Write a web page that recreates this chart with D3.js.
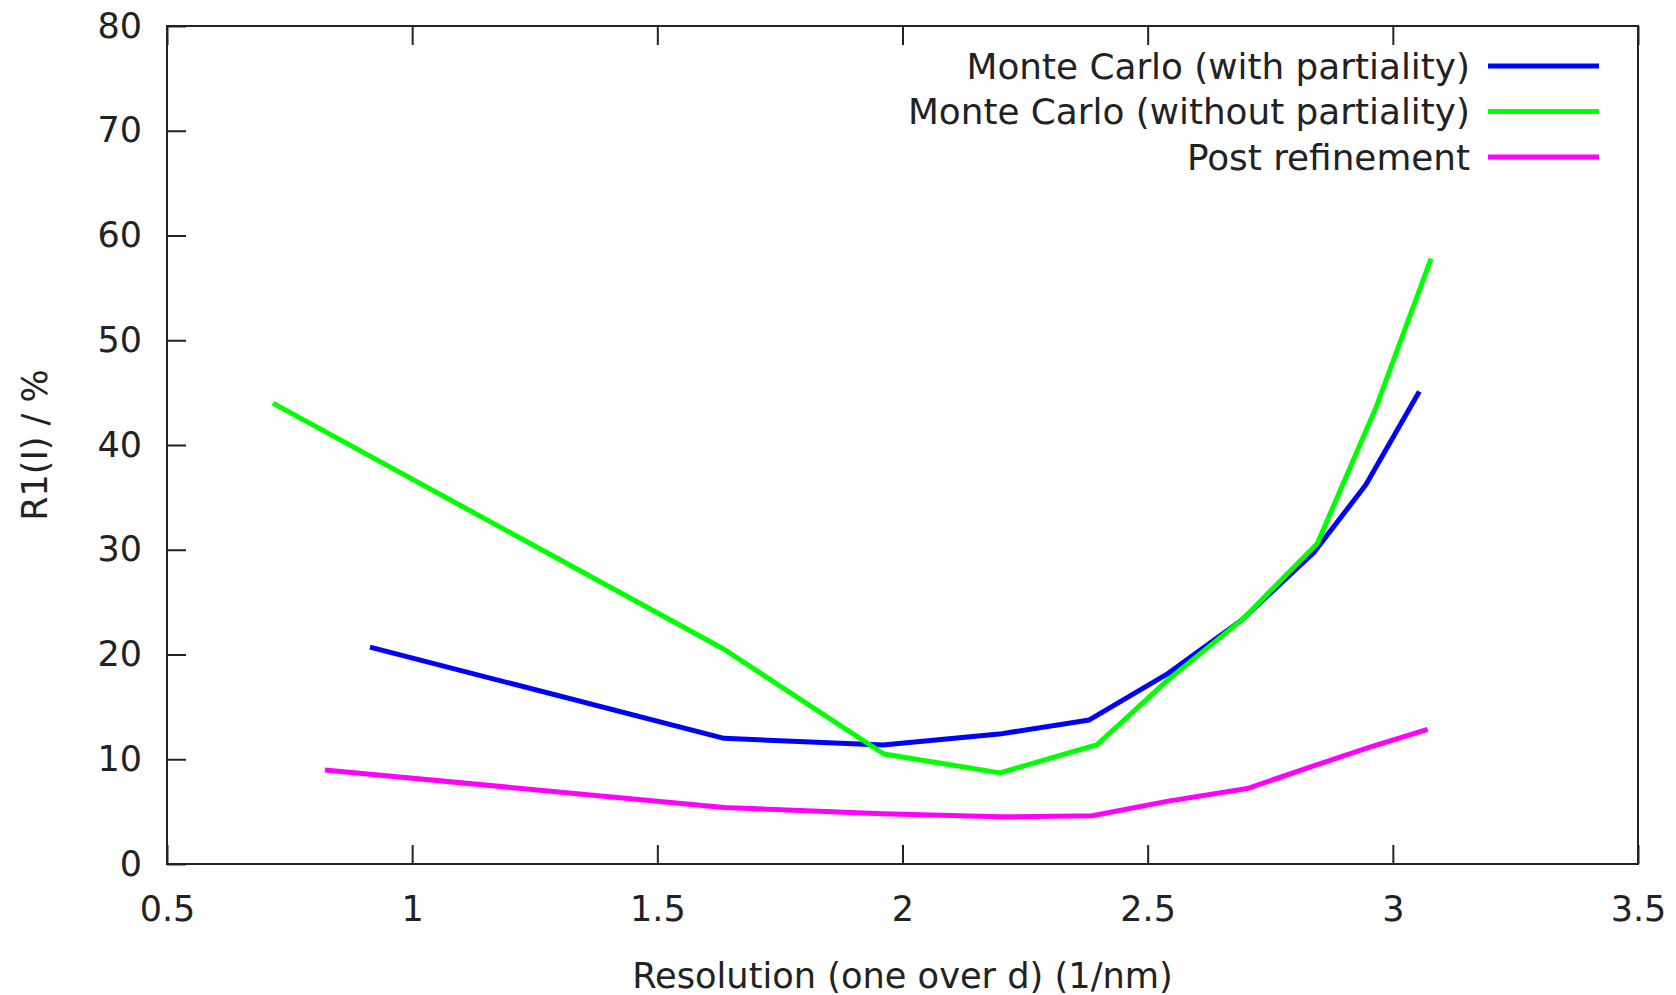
<!DOCTYPE html>
<html>
<head>
<meta charset="utf-8">
<script src="https://cdn.jsdelivr.net/npm/d3@7"></script>
<style>
  body { margin: 0; background: #fff; }
  text { font-family: "DejaVu Sans", sans-serif; fill: #222; }
</style>
</head>
<body>
<div id="chart"></div>
<script>
// values
var seriesNames = ["Monte Carlo (with partiality)", "Monte Carlo (without partiality)", "Post refinement"];
var seriesColors = ["#0000ff", "#00ff00", "#ff00ff"];

var withPartialityX = [0.914, 1.636, 1.96, 2.197, 2.381, 2.542, 2.692, 2.84, 2.945, 3.054];
var withPartialityY = [20.7, 12.0, 11.35, 12.4, 13.75, 18.2, 23.3, 29.8, 36.2, 45.1];

var withoutPartialityX = [0.716, 1.636, 1.962, 2.199, 2.397, 2.542, 2.692, 2.846, 2.965, 3.078];
var withoutPartialityY = [44.0, 20.5, 10.5, 8.7, 11.4, 17.6, 23.3, 30.6, 43.5, 57.8];

var postRefinementX = [0.822, 1.636, 1.96, 2.199, 2.387, 2.542, 2.703, 2.84, 2.95, 3.071];
var postRefinementY = [8.97, 5.4, 4.8, 4.5, 4.6, 6.0, 7.2, 9.4, 11.1, 12.86];

var xTicks = [0.5, 1, 1.5, 2, 2.5, 3, 3.5];
var yTicks = [0, 10, 20, 30, 40, 50, 60, 70, 80];

var xLabel = "Resolution (one over d) (1/nm)";
var yLabel = "R1(I) / %";

var W = 1676, H = 995;
var margin = {top: 26, right: 38, bottom: 131, left: 167};
var width = W - margin.left - margin.right,
    height = H - margin.top - margin.bottom;
var fontSize = 35, tickLen = 19;

var svg = d3.select('#chart').append('svg')
    .attr('width', W)
    .attr('height', H);

var g = svg.append('g')
    .attr('transform', 'translate(' + margin.left + ',' + margin.top + ')');

var xScale = d3.scaleLinear().domain([0.5, 3.5]).range([0, width]);
var yScale = d3.scaleLinear().domain([0, 80]).range([height, 0]);

// bottom axis, ticks pointing inward
var xAxis = d3.axisBottom(xScale)
    .tickValues(xTicks)
    .tickSize(-tickLen)
    .tickFormat(d3.format('~g'));

var xg = g.append('g')
    .attr('transform', 'translate(0,' + height + ')')
    .call(xAxis);

// top mirror ticks
var xTop = g.append('g')
    .call(d3.axisTop(xScale).tickValues(xTicks).tickSize(-tickLen).tickFormat(''));

var yAxis = d3.axisLeft(yScale)
    .tickValues(yTicks)
    .tickSize(-tickLen)
    .tickPadding(25);

var yg = g.append('g').call(yAxis);

[xg, xTop, yg].forEach(function(ax) {
  ax.select('.domain').remove();
  ax.selectAll('line').attr('stroke', '#222').attr('stroke-width', 2);
  ax.selectAll('text')
    .style('font-size', fontSize + 'px')
    .style('font-family', '"DejaVu Sans", sans-serif')
    .attr('fill', '#222');
});
xg.selectAll('text').attr('dy', '0.71em').attr('y', 32);

// border
g.append('rect')
    .attr('width', width)
    .attr('height', height)
    .attr('fill', 'none')
    .attr('stroke', '#222')
    .attr('stroke-width', 2);

var series = [
  {x: withPartialityX, y: withPartialityY},
  {x: withoutPartialityX, y: withoutPartialityY},
  {x: postRefinementX, y: postRefinementY}
];

var line = d3.line()
    .x(function(d) { return xScale(d[0]); })
    .y(function(d) { return yScale(d[1]); });

series.forEach(function(s, i) {
  var pts = s.x.map(function(v, j) { return [v, s.y[j]]; });
  g.append('path')
    .datum(pts)
    .attr('fill', 'none')
    .attr('stroke', seriesColors[i])
    .attr('stroke-width', 5)
    .attr('stroke-linejoin', 'round')
    .attr('d', line);
});

// legend
var legend = svg.append('g');
seriesNames.forEach(function(name, i) {
  var ly = 66 + i * 45.5;
  legend.append('text')
    .attr('x', 1470)
    .attr('y', ly)
    .attr('dy', '0.35em')
    .attr('text-anchor', 'end')
    .style('font-size', '35.8px')
    .text(name);
  legend.append('line')
    .attr('x1', 1488).attr('x2', 1599)
    .attr('y1', ly).attr('y2', ly)
    .attr('stroke', seriesColors[i])
    .attr('stroke-width', 5);
});

// axis labels
svg.append('text')
    .attr('x', margin.left + width / 2)
    .attr('y', 988)
    .attr('text-anchor', 'middle')
    .style('font-size', '35.2px')
    .text(xLabel);

svg.append('text')
    .attr('transform', 'translate(35,' + (margin.top + height / 2) + ') rotate(-90)')
    .attr('text-anchor', 'middle')
    .attr('dy', '0.35em')
    .style('font-size', fontSize + 'px')
    .text(yLabel);
</script>
</body>
</html>
